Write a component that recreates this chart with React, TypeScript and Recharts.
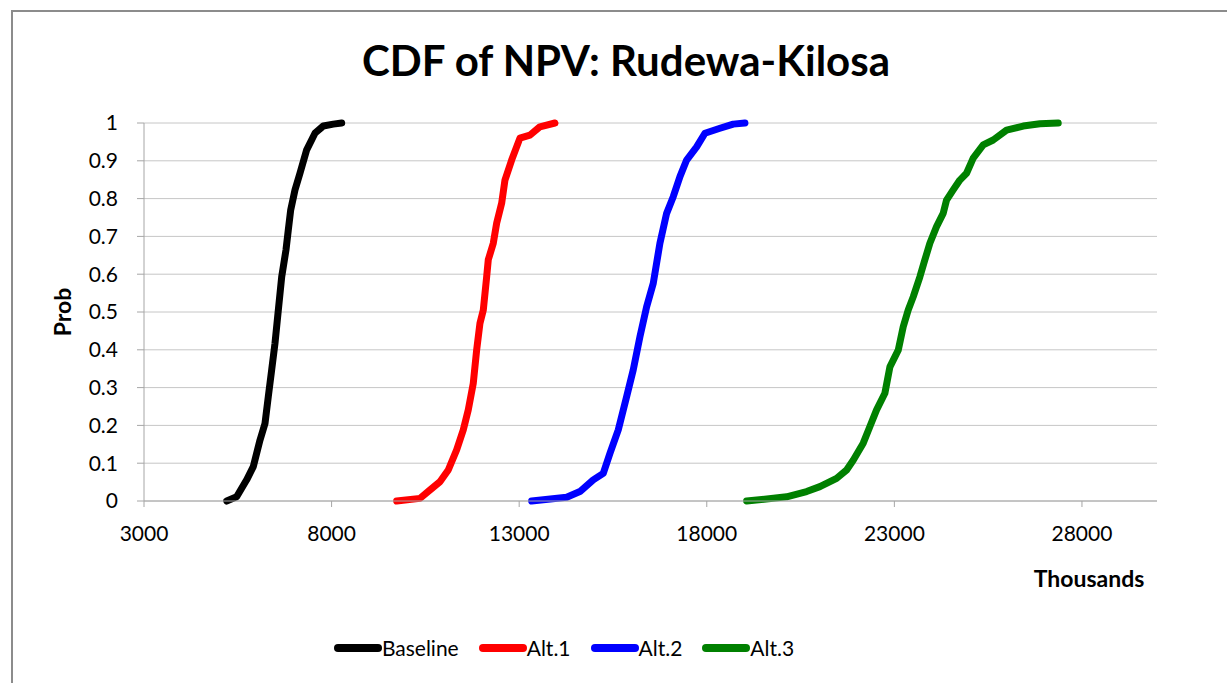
import { LineChart, Line, XAxis, YAxis, CartesianGrid } from "recharts";

const FONT = "Lato, 'Open Sans', sans-serif";

// x values in thousands, y is cumulative probability
const baselineX = [5204, 5470, 5737, 5913, 6091, 6225, 6313, 6403, 6491, 6580, 6670, 6784, 6846, 6910, 7024, 7157, 7336, 7557, 7779, 8045, 8269];
const baselineP = [0, 0.011, 0.056, 0.091, 0.161, 0.205, 0.276, 0.347, 0.417, 0.505, 0.593, 0.664, 0.717, 0.77, 0.823, 0.867, 0.929, 0.973, 0.992, 0.997, 1.0];

const alt1X = [9734, 10355, 10622, 10888, 11110, 11333, 11510, 11643, 11776, 11866, 11954, 12043, 12133, 12176, 12310, 12400, 12533, 12621, 12799, 13020, 13287, 13553, 13953];
const alt1P = [0, 0.007, 0.029, 0.051, 0.082, 0.135, 0.188, 0.241, 0.311, 0.399, 0.47, 0.505, 0.593, 0.638, 0.682, 0.735, 0.788, 0.849, 0.902, 0.96, 0.968, 0.99, 1.0];

const alt2X = [13332, 14265, 14619, 14974, 15241, 15419, 15641, 15864, 16040, 16219, 16397, 16574, 16751, 16930, 17106, 17285, 17463, 17730, 17951, 18351, 18706, 19017];
const alt2P = [0, 0.01, 0.025, 0.056, 0.073, 0.126, 0.188, 0.276, 0.347, 0.435, 0.514, 0.576, 0.682, 0.761, 0.805, 0.858, 0.902, 0.937, 0.973, 0.986, 0.997, 1.0];

const alt3X = [19062, 20128, 20661, 21015, 21460, 21727, 21903, 22170, 22348, 22526, 22747, 22881, 23103, 23236, 23369, 23502, 23680, 23813, 23946, 24124, 24301, 24390, 24568, 24746, 24924, 25101, 25368, 25634, 25990, 26434, 26879, 27367];
const alt3P = [0, 0.011, 0.025, 0.038, 0.06, 0.082, 0.108, 0.153, 0.197, 0.241, 0.285, 0.355, 0.399, 0.461, 0.505, 0.54, 0.593, 0.638, 0.682, 0.726, 0.761, 0.796, 0.823, 0.849, 0.867, 0.907, 0.942, 0.955, 0.981, 0.992, 0.998, 1.0];

const xTicks = [3000, 8000, 13000, 18000, 23000, 28000];
const yTicks = [0, 0.1, 0.2, 0.3, 0.4, 0.5, 0.6, 0.7, 0.8, 0.9, 1];

const seriesNames = ["Baseline", "Alt.1", "Alt.2", "Alt.3"];
const seriesColors = ["#000000", "#ff0000", "#0000ff", "#008000"];

const zip = (xs: number[], ps: number[]) => xs.map((x, i) => ({ x, p: ps[i] }));

const series = [
  zip(baselineX, baselineP),
  zip(alt1X, alt1P),
  zip(alt2X, alt2P),
  zip(alt3X, alt3P),
];

const tickStyle = { fontSize: 21, fill: "#000", fontFamily: FONT };

export default function App() {
  return (
    <div
      style={{
        position: "absolute",
        left: 0,
        top: 0,
        width: 1227,
        height: 683,
        background: "#fff",
        overflow: "hidden",
        fontFamily: FONT,
      }}
    >
      <div
        style={{
          position: "absolute",
          left: 11,
          top: 10,
          width: 1240,
          height: 700,
          borderLeft: "2px solid #8c8c8c",
          borderTop: "2px solid #8c8c8c",
        }}
      />
      <div
        style={{
          position: "absolute",
          left: 0,
          width: 1252,
          top: 39,
          textAlign: "center",
          fontSize: 42,
          lineHeight: 1,
          fontWeight: 700,
          color: "#000",
        }}
      >
        CDF of NPV: Rudewa-Kilosa
      </div>

      <div style={{ position: "absolute", left: 0, top: 0 }}>
        <LineChart
          width={1227}
          height={683}
          margin={{ top: 123, right: 70, bottom: 142, left: 84 }}
        >
          <CartesianGrid stroke="#c6c6c6" vertical={false} />
          <XAxis
            type="number"
            dataKey="x"
            domain={[3000, 30000]}
            ticks={xTicks}
            height={40}
            tick={tickStyle}
            tickSize={6}
            tickMargin={19}
            axisLine={{ stroke: "#a6a6a6" }}
            tickLine={{ stroke: "#a6a6a6" }}
            allowDataOverflow
          />
          <YAxis
            type="number"
            dataKey="p"
            domain={[0, 1]}
            ticks={yTicks}
            width={60}
            tick={tickStyle}
            tickSize={7}
            tickMargin={19}
            axisLine={{ stroke: "#a6a6a6" }}
            tickLine={{ stroke: "#a6a6a6" }}
            tickFormatter={(v: number) => String(Math.round(v * 10) / 10)}
          />
          {series.map((data, i) => (
            <Line
              key={seriesNames[i]}
              data={data}
              dataKey="p"
              name={seriesNames[i]}
              type="linear"
              stroke={seriesColors[i]}
              strokeWidth={7}
              strokeLinecap="round"
              strokeLinejoin="round"
              dot={false}
              activeDot={false}
              isAnimationActive={false}
            />
          ))}
        </LineChart>
      </div>

      <div
        style={{
          position: "absolute",
          left: 62,
          top: 312,
          transform: "translate(-50%, -50%) rotate(-90deg)",
          fontSize: 23,
          fontWeight: 700,
          lineHeight: 1,
          color: "#000",
        }}
      >
        Prob
      </div>
      <div
        style={{
          position: "absolute",
          left: 1089,
          top: 578,
          transform: "translate(-50%, -50%)",
          fontSize: 23,
          fontWeight: 700,
          lineHeight: 1,
          color: "#000",
        }}
      >
        Thousands
      </div>

      <div
        style={{
          position: "absolute",
          left: 0,
          width: 1128,
          top: 636,
          display: "flex",
          justifyContent: "center",
          alignItems: "center",
          gap: 20,
          fontSize: 21,
          lineHeight: "24px",
          color: "#000",
        }}
      >
        {seriesNames.map((name, i) => (
          <div key={name} style={{ display: "flex", alignItems: "center" }}>
            <svg width={48} height={10}>
              <line x1={4} y1={5} x2={44} y2={5} stroke={seriesColors[i]} strokeWidth={8} strokeLinecap="round" />
            </svg>
            <span>{name}</span>
          </div>
        ))}
      </div>
    </div>
  );
}
